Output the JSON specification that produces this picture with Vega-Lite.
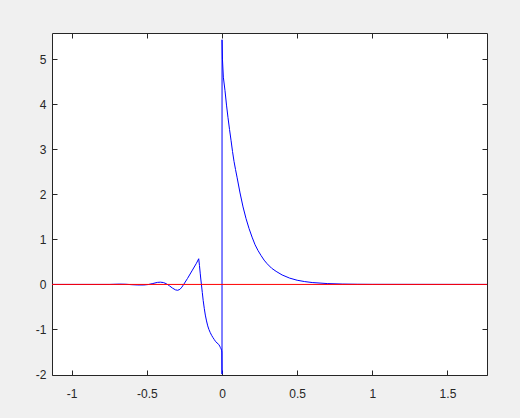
{
  "$schema": "https://vega.github.io/schema/vega-lite/v6.json",
  "width": 435,
  "height": 342,
  "autosize": {"type": "none"},
  "padding": {"left": 52, "top": 33, "right": 33, "bottom": 43},
  "background": "#f0f0f0",
  "config": {
    "view": {"fill": "white", "stroke": null},
    "axis": {
      "domainColor": "#262626",
      "domainWidth": 1,
      "tickColor": "#262626",
      "tickSize": -5,
      "tickWidth": 1,
      "grid": false,
      "labelFont": "Liberation Sans",
      "labelFontSize": 12,
      "labelColor": "#262626",
      "title": null
    }
  },
  "datasets": {
    "signal": [
      {"x": -1.131, "y": 0}, {"x": -0.75, "y": 0}, {"x": -0.72, "y": 0.003}, {"x": -0.68, "y": 0.007},
      {"x": -0.64, "y": 0.004}, {"x": -0.6, "y": -0.006}, {"x": -0.56, "y": -0.012}, {"x": -0.52, "y": -0.012},
      {"x": -0.49, "y": -0.002}, {"x": -0.46, "y": 0.02}, {"x": -0.43, "y": 0.045}, {"x": -0.41, "y": 0.05},
      {"x": -0.39, "y": 0.042}, {"x": -0.37, "y": 0.015}, {"x": -0.35, "y": -0.03}, {"x": -0.33, "y": -0.08},
      {"x": -0.31, "y": -0.12}, {"x": -0.295, "y": -0.13}, {"x": -0.28, "y": -0.11}, {"x": -0.267, "y": -0.06},
      {"x": -0.255, "y": 0.0}, {"x": -0.23, "y": 0.13}, {"x": -0.2, "y": 0.3}, {"x": -0.17, "y": 0.47},
      {"x": -0.155, "y": 0.57}, {"x": -0.15, "y": 0.42}, {"x": -0.145, "y": 0.25}, {"x": -0.141, "y": 0.12},
      {"x": -0.137, "y": 0.0}, {"x": -0.131, "y": -0.18}, {"x": -0.125, "y": -0.36}, {"x": -0.118, "y": -0.53},
      {"x": -0.111, "y": -0.68}, {"x": -0.103, "y": -0.81}, {"x": -0.095, "y": -0.92}, {"x": -0.087, "y": -1.0},
      {"x": -0.078, "y": -1.07}, {"x": -0.069, "y": -1.13}, {"x": -0.06, "y": -1.18}, {"x": -0.052, "y": -1.22},
      {"x": -0.044, "y": -1.26}, {"x": -0.033, "y": -1.3}, {"x": -0.022, "y": -1.33}, {"x": -0.015, "y": -1.37},
      {"x": -0.011, "y": -1.4}, {"x": -0.006, "y": -1.43}, {"x": -0.003, "y": -1.46}, {"x": -0.001, "y": -1.5},
      {"x": 0.0, "y": -1.99}, {"x": 0.0003, "y": 5.43}, {"x": 0.003, "y": 5.0}, {"x": 0.009, "y": 4.6},
      {"x": 0.02, "y": 4.3}, {"x": 0.03, "y": 3.98}, {"x": 0.04, "y": 3.7}, {"x": 0.05, "y": 3.44},
      {"x": 0.06, "y": 3.2}, {"x": 0.07, "y": 2.95}, {"x": 0.08, "y": 2.73}, {"x": 0.09, "y": 2.55},
      {"x": 0.1, "y": 2.38}, {"x": 0.12, "y": 2.03}, {"x": 0.14, "y": 1.72}, {"x": 0.16, "y": 1.46},
      {"x": 0.18, "y": 1.24}, {"x": 0.2, "y": 1.05}, {"x": 0.22, "y": 0.88}, {"x": 0.24, "y": 0.75},
      {"x": 0.26, "y": 0.64}, {"x": 0.28, "y": 0.54}, {"x": 0.3, "y": 0.46}, {"x": 0.33, "y": 0.36},
      {"x": 0.36, "y": 0.29}, {"x": 0.4, "y": 0.21}, {"x": 0.45, "y": 0.14}, {"x": 0.5, "y": 0.093},
      {"x": 0.55, "y": 0.063}, {"x": 0.6, "y": 0.042}, {"x": 0.7, "y": 0.019}, {"x": 0.8, "y": 0.0085},
      {"x": 0.9, "y": 0.004}, {"x": 1.0, "y": 0.0017}, {"x": 1.763, "y": 0}
    ],
    "zero": [{"x": -1.131, "y": 0}, {"x": 1.763, "y": 0}]
  },
  "layer": [
    {
      "data": {"name": "signal"},
      "mark": {"type": "line", "color": "#0000ff", "strokeWidth": 1, "clip": true},
      "encoding": {
        "x": {
          "field": "x", "type": "quantitative",
          "scale": {"domain": [-1.131, 1.763], "nice": false, "zero": false},
          "axis": {"orient": "bottom", "values": [-1, -0.5, 0, 0.5, 1, 1.5], "labelExpr": "'' + datum.value", "labelPadding": 18}
        },
        "y": {
          "field": "y", "type": "quantitative",
          "scale": {"domain": [-2.01, 5.58], "nice": false, "zero": false},
          "axis": {"orient": "left", "values": [-2, -1, 0, 1, 2, 3, 4, 5], "labelExpr": "'' + datum.value", "labelPadding": 11}
        }
      }
    },
    {
      "data": {"name": "zero"},
      "mark": {"type": "line", "color": "#ff0000", "strokeWidth": 1, "clip": true},
      "encoding": {
        "x": {
          "field": "x", "type": "quantitative",
          "axis": {"orient": "top", "values": [-1, -0.5, 0, 0.5, 1, 1.5], "labels": false}
        },
        "y": {
          "field": "y", "type": "quantitative",
          "axis": {"orient": "right", "values": [-2, -1, 0, 1, 2, 3, 4, 5], "labels": false}
        }
      }
    }
  ],
  "resolve": {"axis": {"x": "independent", "y": "independent"}}
}
